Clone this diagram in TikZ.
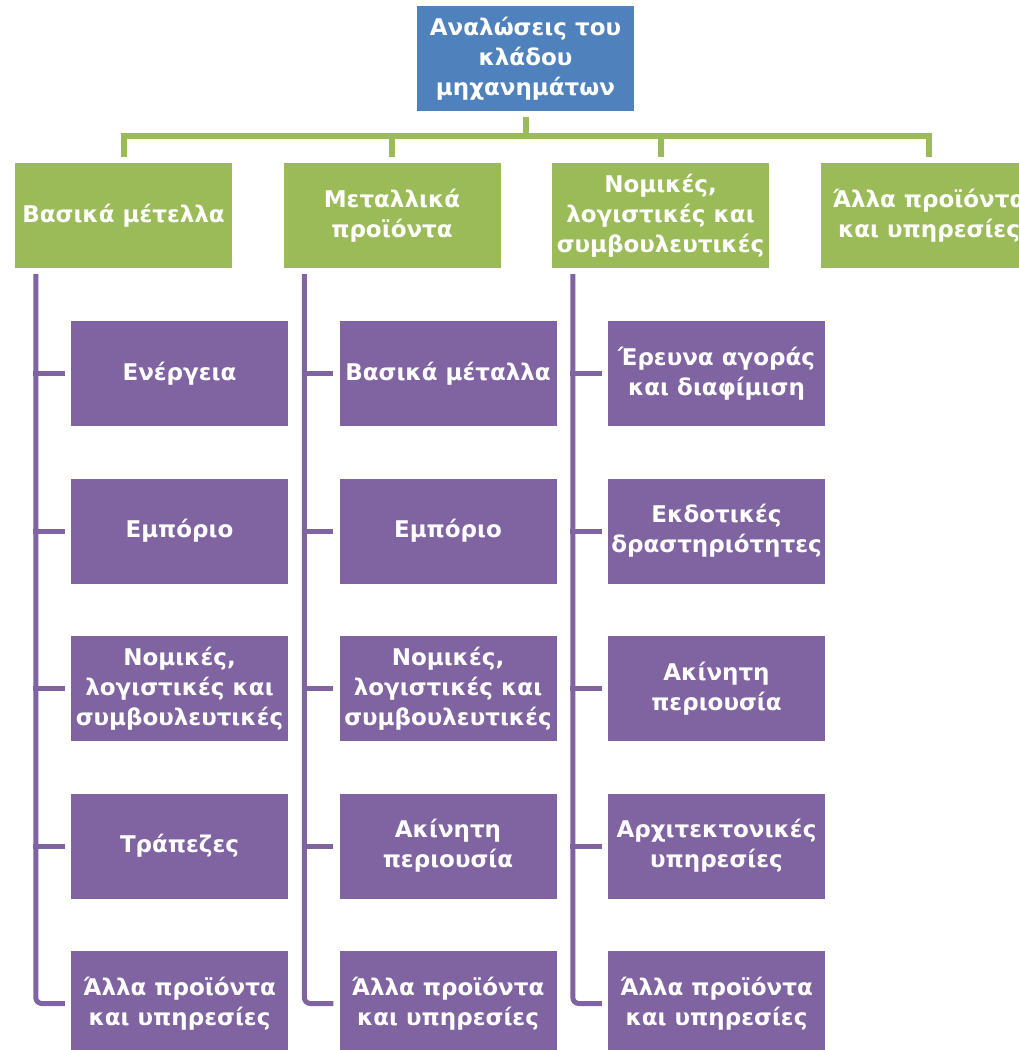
\documentclass[tikz,border=0pt]{standalone}
\usepackage{fontspec}
\setmainfont{DejaVu Sans}
\begin{document}
\begin{tikzpicture}[x=1pt,y=-1pt,
  box/.style={minimum width=217pt,minimum height=105pt,inner sep=0pt,text=white,
    font=\fontsize{23}{30}\selectfont\bfseries,align=center,anchor=center},
  topbox/.style={box,fill=topblue},
  grbox/.style={box,fill=grn},
  chbox/.style={box,fill=purp},
  gline/.style={draw=grn,line width=6pt},
  pline/.style={draw=purp,line width=5pt,rounded corners=6pt}]
\definecolor{topblue}{HTML}{4F81BD}
\definecolor{grn}{HTML}{9BBB59}
\definecolor{purp}{HTML}{8064A2}
\useasboundingbox (0,0) rectangle (1019,1050);
\clip (0,0) rectangle (1019,1050);
% top
\node[topbox] (top) at (525.5,58.5) {Αναλώσεις του\\κλάδου\\μηχανημάτων};
% level 1
\node[grbox] (g1) at (123.5,215.5) {Βασικά μέτελλα};
\node[grbox] (g2) at (392,215.5) {Μεταλλικά\\προϊόντα};
\node[grbox] (g3) at (660.5,215.5) {Νομικές,\\λογιστικές και\\συμβουλευτικές};
\node[grbox] (g4) at (929,215.5) {Άλλα προϊόντα\\και υπηρεσίες};
% bus
\coordinate (bus) at (525.5,136);
\draw[gline] ([yshift=-6pt]top.south) -- (bus);
\foreach \g in {g1,g2,g3,g4}{
  \draw[gline] (bus -| \g.north) -- ([yshift=6pt]\g.north);
}
\draw[gline] ([xshift=-3pt]bus -| g1.north) -- ([xshift=3pt]bus -| g4.north);
% column 1
\node[chbox] (a1) at (179.5,373.5) {Ενέργεια};
\node[chbox] (a2) at (179.5,531) {Εμπόριο};
\node[chbox] (a3) at (179.5,688.5) {Νομικές,\\λογιστικές και\\συμβουλευτικές};
\node[chbox] (a4) at (179.5,846) {Τράπεζες};
\node[chbox] (a5) at (179.5,1003.5) {Άλλα προϊόντα\\και υπηρεσίες};
% column 2
\node[chbox] (b1) at (448,373.5) {Βασικά μέταλλα};
\node[chbox] (b2) at (448,531) {Εμπόριο};
\node[chbox] (b3) at (448,688.5) {Νομικές,\\λογιστικές και\\συμβουλευτικές};
\node[chbox] (b4) at (448,846) {Ακίνητη\\περιουσία};
\node[chbox] (b5) at (448,1003.5) {Άλλα προϊόντα\\και υπηρεσίες};
% column 3
\node[chbox] (c1) at (716.5,373.5) {Έρευνα αγοράς\\και διαφίμιση};
\node[chbox] (c2) at (716.5,531) {Εκδοτικές\\δραστηριότητες};
\node[chbox] (c3) at (716.5,688.5) {Ακίνητη\\περιουσία};
\node[chbox] (c4) at (716.5,846) {Αρχιτεκτονικές\\υπηρεσίες};
\node[chbox] (c5) at (716.5,1003.5) {Άλλα προϊόντα\\και υπηρεσίες};
% purple connectors
\foreach \g/\c in {g1/a,g2/b,g3/c}{
  \coordinate (v\c) at ([xshift=21pt,yshift=-6pt]\g.south west);
  \draw[pline] (v\c) |- ([xshift=-6pt]\c5.west);
  \foreach \i in {1,2,3,4}{
    \draw[draw=purp,line width=5pt] ([xshift=-2.5pt]v\c |- \c\i.west) -- ([xshift=-6pt]\c\i.west);
  }
}
\end{tikzpicture}
\end{document}
